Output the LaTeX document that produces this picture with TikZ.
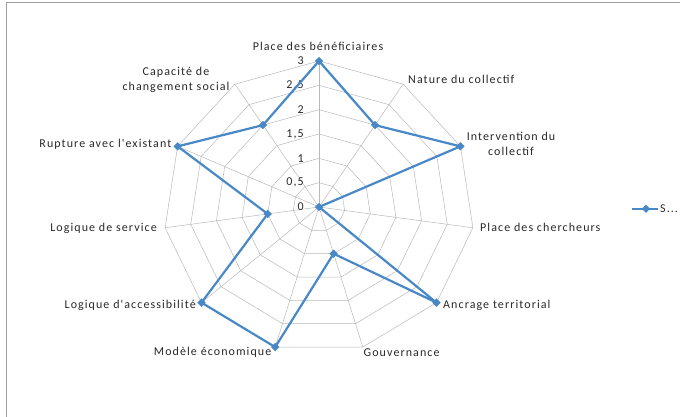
\documentclass[tikz,border=0pt]{standalone}
\usepackage{fontspec}
\setmainfont{Carlito}
\newfontfamily\chartfont[LetterSpace=9]{Carlito}
\usetikzlibrary{shapes.geometric,calc}
\definecolor{serieblue}{RGB}{72,136,198}
\definecolor{gridgray}{RGB}{185,185,185}
\definecolor{framegray}{RGB}{160,160,160}
\definecolor{labelgray}{RGB}{40,40,40}

\begin{document}
\begin{tikzpicture}[x=1pt,y=1pt]
        \tikzstyle{axis label}=[inner sep=1pt,text=labelgray,
        font=\chartfont\fontsize{12}{15}\selectfont]
        \tikzstyle{tick label}=[anchor=east,inner sep=1pt,text=labelgray,
        font=\chartfont\fontsize{12}{15}\selectfont]
        \tikzstyle{grid line}=[draw=gridgray,line width=0.5pt]
        \tikzstyle{serie}=[draw=serieblue,line width=2.2pt,line join=round]
        \tikzstyle{marker}=[diamond,fill=serieblue,draw=none,
        inner sep=0pt,minimum width=8.5pt,minimum height=8.5pt]
        \useasboundingbox (0,0) rectangle (680,416);
        % Frame:
        \draw[framegray,line width=1pt] (6,413) rectangle (720,-40);

        \begin{scope}[shift={(319pt,209pt)},x=51.83pt,y=48.67pt]
        \coordinate (o) at (0,0);
        % Rings and spokes:
        \foreach \r in {0.5,1,...,3}
          \draw[grid line] (90:\r) \foreach \i in {1,...,10}{ -- ({90-\i*360/11}:\r)} -- cycle;
        \foreach \i in {0,...,10}
          \draw[grid line] (o) -- ({90-\i*360/11}:3);

        % Tick labels:
        \node (t_0) [tick label] at (-0.27,0) {0};
        \node (t_1) [tick label] at (-0.27,0.5) {0,5};
        \node (t_2) [tick label] at (-0.27,1) {1};
        \node (t_3) [tick label] at (-0.27,1.5) {1,5};
        \node (t_4) [tick label] at (-0.27,2) {2};
        \node (t_5) [tick label] at (-0.27,2.5) {2,5};
        \node (t_6) [tick label] at (-0.27,3) {3};

        % Values:
        \coordinate (v_1) at (90:3);
        \coordinate (v_2) at ({90-1*360/11}:2);
        \coordinate (v_3) at ({90-2*360/11}:3);
        \coordinate (v_4) at (o);
        \coordinate (v_5) at ({90-4*360/11}:3);
        \coordinate (v_6) at ({90-5*360/11}:1);
        \coordinate (v_7) at ({90-6*360/11}:3);
        \coordinate (v_8) at ({90-7*360/11}:3);
        \coordinate (v_9) at ({90-8*360/11}:1);
        \coordinate (v_10) at ({90-9*360/11}:3);
        \coordinate (v_11) at ({90-10*360/11}:2);
        \end{scope}

        \draw[serie] (v_1) -- (v_2) -- (v_3) -- (v_4) -- (v_5) -- (v_6)
          -- (v_7) -- (v_8) -- (v_9) -- (v_10) -- (v_11) -- cycle;
        \foreach \i in {1,...,11}
          \node (m_\i) [marker] at (v_\i) {};

        % Axis labels:
        \node (a_1) [axis label] at (318,370) {Place des bénéficiaires};
        \node (a_2) [axis label,anchor=west] at (407,337) {Nature du collectif};
        \node (a_3) [axis label,align=center] at (511,272.5) {Intervention du\\collectif};
        \node (a_4) [axis label,anchor=west] at (479,188.3) {Place des chercheurs};
        \node (a_5) [axis label,anchor=west] at (442,110.3) {Ancrage territorial};
        \node (a_6) [axis label,anchor=west] at (362.5,63.7) {Gouvernance};
        \node (a_7) [axis label,anchor=east] at (272.5,63.7) {Modèle économique};
        \node (a_8) [axis label,anchor=east] at (197,110.3) {Logique d'accessibilité};
        \node (a_9) [axis label,anchor=east] at (158,187.7) {Logique de service};
        \node (a_10) [axis label,anchor=east] at (172.5,271.7) {Rupture avec l'existant};
        \node (a_11) [axis label,align=center] at (176,336.5) {Capacité de\\changement social};

        % Legend:
        \coordinate (leg_a) at (632,207.3);
        \coordinate (leg_b) at (658,207.3);
        \draw[serie] (leg_a) -- (leg_b);
        \node (leg_m) [marker] at (646,207.3) {};
        \node (leg_t) [axis label,anchor=west] at (659,207.3) {S...};
\end{tikzpicture}
\end{document}
